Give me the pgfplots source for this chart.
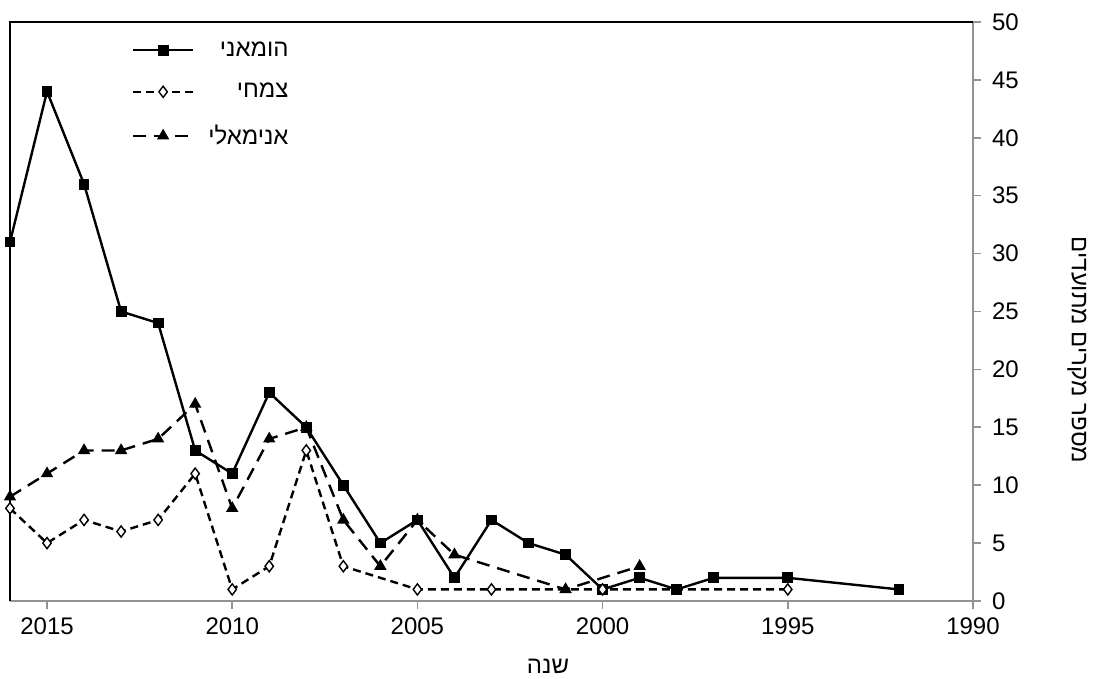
\documentclass[border=0pt]{standalone}
\usepackage{pgfplots}
\pgfplotsset{compat=1.18}
\usepackage{fontspec}
\setmainfont{Liberation Sans}
\newfontfamily\hebfont[Script=Hebrew]{Liberation Sans}
\TeXXeTstate=1
\newcommand{\heb}[1]{{\hebfont\beginR #1\endR}}
\begin{document}
\begin{tikzpicture}
\begin{axis}[
  scale only axis, width=481.5pt, height=289.5pt,
  xmin=1990, xmax=2016, x dir=reverse,
  ymin=0, ymax=50,
  xtick={1990,1995,2000,2005,2010,2015},
  ytick={0,5,10,15,20,25,30,35,40,45,50},
  axis x line*=bottom, axis y line*=right,
  axis line style={draw=gray!85, line width=0.8pt, -},
  tick style={draw=gray!85, line width=0.8pt},
  tick align=outside, major tick length=4pt,
  /pgf/number format/assume math mode=true,
  /pgf/number format/1000 sep={},
  tick label style={font=\fontsize{12}{14}\selectfont},
  y tick label style={xshift=2pt},
  x tick label style={yshift=-1pt},
  clip=false,
  legend style={draw=none, fill=none, at={(axis description cs:0.120,0.981)}, anchor=north west,
    font=\fontsize{12}{14}\selectfont, row sep=8pt, column sep=5pt},
  legend cell align=right,
  legend image code/.code={\draw[mark repeat=2,mark phase=2] plot coordinates {(0pt,0pt) (15pt,0pt) (30pt,0pt)};},
]
\draw[black, line width=1pt] (axis description cs:0,0) -- (axis description cs:0,1) -- (axis description cs:1,1);

\addplot[black, line width=1.2pt, mark=square*, mark size=2.1pt, mark options={solid}] coordinates {
(2016,31)(2015,44)(2014,36)(2013,25)(2012,24)(2011,13)(2010,11)(2009,18)(2008,15)(2007,10)(2006,5)(2005,7)(2004,2)(2003,7)(2002,5)(2001,4)(2000,1)(1999,2)(1998,1)(1997,2)(1995,2)(1992,1)};
\addlegendentry{\heb{הומאני}}

\addplot[black, line width=1.2pt, dash pattern=on 4pt off 2.5pt, mark=diamond*, mark size=2.8pt, mark options={solid, fill=white, line width=0.7pt}] coordinates {
(2016,8)(2015,5)(2014,7)(2013,6)(2012,7)(2011,11)(2010,1)(2009,3)(2008,13)(2007,3)(2005,1)(2003,1)(2000,1)(1995,1)};
\addlegendentry{\heb{צמחי}}

\addplot[black, line width=1.2pt, dash pattern=on 6.5pt off 4pt, mark=triangle*, mark size=2.4pt, mark options={solid}] coordinates {
(2016,9)(2015,11)(2014,13)(2013,13)(2012,14)(2011,17)(2010,8)(2009,14)(2008,15)(2007,7)(2006,3)(2005,7)(2004,4)(2001,1)(1999,3)};
\addlegendentry{\heb{אנימאלי}}

\node[font=\fontsize{12}{14}\selectfont] at (axis description cs:0.5587,-0.113) {\heb{שנה}};
\node[font=\fontsize{12}{14}\selectfont, rotate=-90] at (axis description cs:1.108,0.4335) {\heb{מספר מקרים מתועדים}};
\end{axis}
\pgfresetboundingbox
\path (-5pt,-39pt) rectangle (541.5pt,300.5pt);
\end{tikzpicture}
\end{document}
